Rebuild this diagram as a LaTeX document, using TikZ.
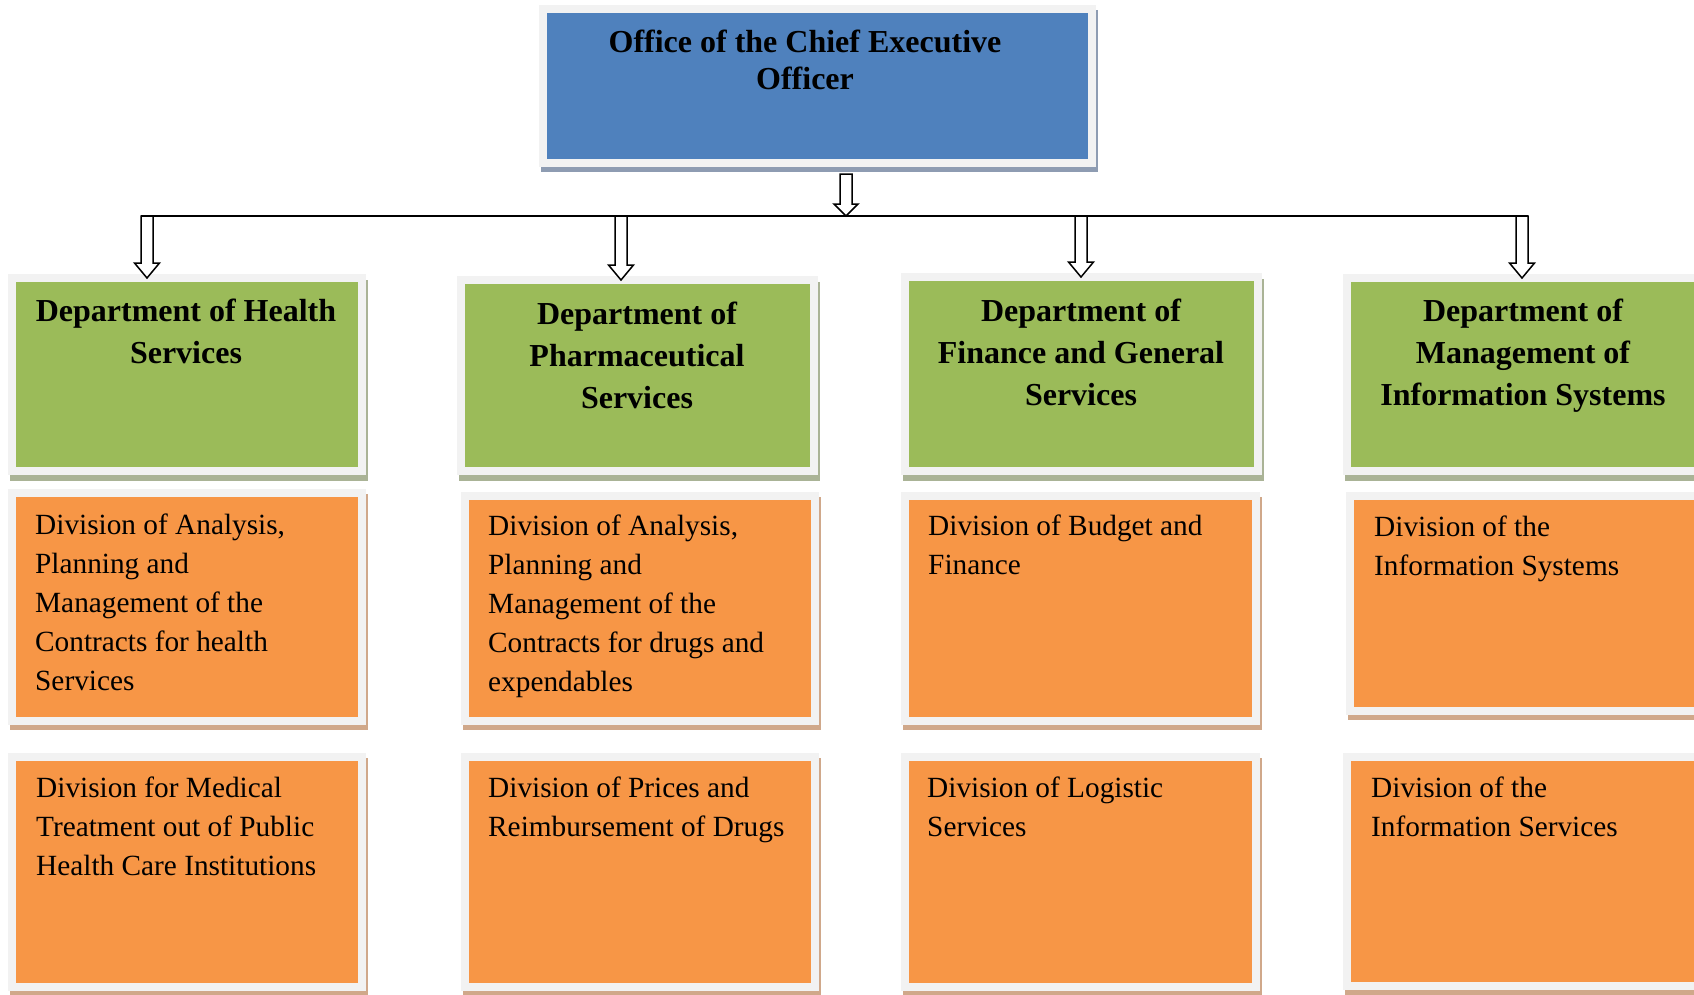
\documentclass[tikz,border=0pt]{standalone}
\usepackage{fontspec}
\setmainfont{Liberation Serif}
\usetikzlibrary{calc}
\definecolor{ceoblue}{RGB}{79,129,189}
\definecolor{deptgreen}{RGB}{155,187,89}
\definecolor{divorange}{RGB}{247,150,70}
\definecolor{framegray}{RGB}{242,242,242}
\definecolor{ceoshadow}{RGB}{142,156,178}
\definecolor{deptshadow}{RGB}{170,179,150}
\definecolor{divshadow}{RGB}{208,168,138}

% hollow block arrow from #1 down to #2 (head half width, head length)
\newcommand{\blockarrow}[4]{%
  \draw[hollow] let \p1=(#1), \p2=(#2) in
    (\x1-6pt,\y1) -- (\x1+6pt,\y1) -- (\x1+6pt,\y2+#4) -- (\x1+#3,\y2+#4)
    -- (\x1,\y2) -- (\x1-#3,\y2+#4) -- (\x1-6pt,\y2+#4) -- cycle;}

\begin{document}
\begin{tikzpicture}[x=1pt, y=1pt,
    box/.style={rectangle, draw=framegray, line width=8pt, inner sep=0pt, outer sep=0pt},
    ceonode/.style={box, fill=ceoblue, preaction={draw=ceoshadow, fill=ceoshadow, transform canvas={xshift=2pt, yshift=-5pt}}},
    deptnode/.style={box, fill=deptgreen, preaction={draw=deptshadow, fill=deptshadow, transform canvas={xshift=2pt, yshift=-6pt}}},
    divnode/.style={box, fill=divorange, preaction={draw=divshadow, fill=divshadow, transform canvas={xshift=2pt, yshift=-5pt}}},
    ceotext/.style={anchor=base, align=center, inner sep=0pt, font=\fontsize{32}{37}\selectfont\bfseries},
    depttext/.style={anchor=base, align=center, inner sep=0pt, font=\fontsize{32}{42}\selectfont\bfseries},
    divtext/.style={anchor=base west, align=left, inner sep=0pt, font=\fontsize{29.3}{39}\selectfont},
    busline/.style={draw=black, line width=1.8pt},
    hollow/.style={draw=black, fill=white, line width=1.5pt, line join=miter}
]
\useasboundingbox (0,0) rectangle (1694,-994);

% Top box (text nodes are placed by their last baseline)
\node[ceonode, minimum width=549pt, minimum height=154pt] (ceo) at (817.5,-86) {};
\node[ceotext] (ceo-t) at (805,-89) {Office of the Chief Executive\\Officer};

% Departments
\node[deptnode, minimum width=350pt, minimum height=193pt] (D-1) at (187,-374.5) {};
\node[deptnode, minimum width=353pt, minimum height=191pt] (D-2) at (637.5,-375.5) {};
\node[deptnode, minimum width=353pt, minimum height=194pt] (D-3) at (1081.5,-374) {};
\node[deptnode, minimum width=351pt, minimum height=193pt] (D-4) at (1522.5,-374.5) {};

\node[depttext] (D-1-t) at (186,-363) {Department of Health\\Services};
\node[depttext] (D-2-t) at (637,-408) {Department of\\Pharmaceutical\\Services};
\node[depttext] (D-3-t) at (1081,-405) {Department of\\Finance and General\\Services};
\node[depttext] (D-4-t) at (1523,-405) {Department of\\Management of\\Information Systems};

% Divisions, first row
\node[divnode, minimum width=350pt, minimum height=228pt] (A-1) at (187,-607) {};
\node[divnode, minimum width=350pt, minimum height=225pt] (A-2) at (640,-608.5) {};
\node[divnode, minimum width=351pt, minimum height=225pt] (A-3) at (1080.5,-608.5) {};
\node[divnode, minimum width=348pt, minimum height=215pt] (A-4) at (1524,-603.5) {};

\node[divtext] (A-1-t) at (35,-690) {Division of Analysis,\\Planning and\\Management of the\\Contracts for health\\Services};
\node[divtext] (A-2-t) at (488,-691) {Division of Analysis,\\Planning and\\Management of the\\Contracts for drugs and\\expendables};
\node[divtext] (A-3-t) at (928,-574) {Division of Budget and\\Finance};
\node[divtext] (A-4-t) at (1374,-575) {Division of the\\Information Systems};

% Divisions, second row
\node[divnode, minimum width=350pt, minimum height=230pt] (B-1) at (187,-872) {};
\node[divnode, minimum width=350pt, minimum height=230pt] (B-2) at (640,-872) {};
\node[divnode, minimum width=351pt, minimum height=230pt] (B-3) at (1080.5,-872) {};
\node[divnode, minimum width=351pt, minimum height=229pt] (B-4) at (1522.5,-871.5) {};

\node[divtext] (B-1-t) at (36,-875) {Division for Medical\\Treatment out of Public\\Health Care Institutions};
\node[divtext] (B-2-t) at (488,-836) {Division of Prices and\\Reimbursement of Drugs};
\node[divtext] (B-3-t) at (927,-836) {Division of Logistic\\Services};
\node[divtext] (B-4-t) at (1371,-836) {Division of the\\Information Services};

% Connections
\coordinate (ceo-out) at (846,-174);
\coordinate (bus) at (846,-216);
\coordinate (bus-1) at (147,-216);
\coordinate (bus-2) at (621,-216);
\coordinate (bus-3) at (1081,-216);
\coordinate (bus-4) at (1522,-216);

\draw[busline] ($(bus-1)+(-6,0)$) -- ($(bus-4)+(6,0)$);
\blockarrow{ceo-out}{bus}{12pt}{12pt}
\foreach \i in {1,...,4}
    {\blockarrow{bus-\i}{D-\i.north}{12.5pt}{15pt}}

\end{tikzpicture}
\end{document}
